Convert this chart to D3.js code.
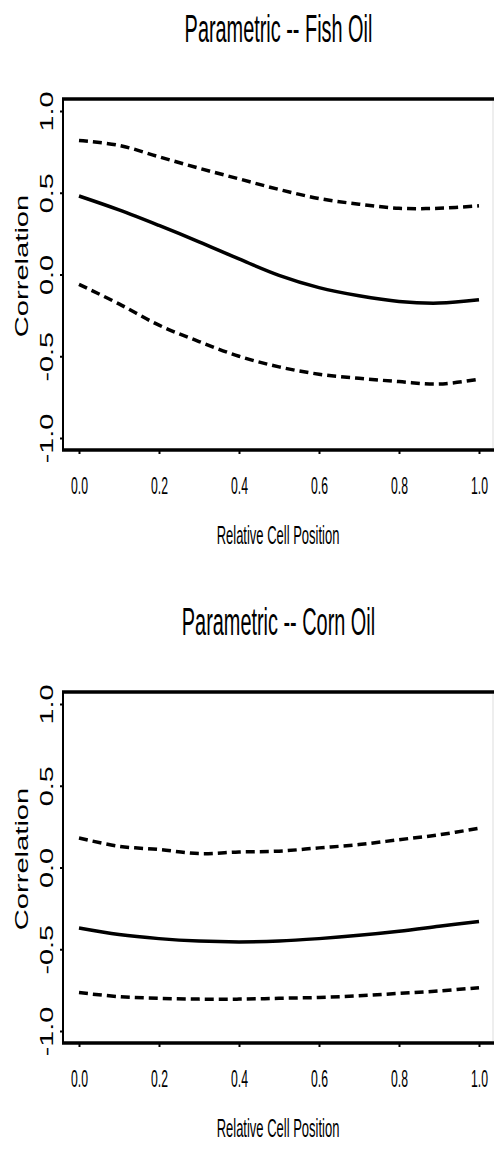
<!DOCTYPE html>
<html>
<head>
<meta charset="utf-8">
<script src="https://cdn.jsdelivr.net/npm/d3@7"></script>
<style>
html,body{margin:0;padding:0;background:#fff;}
svg{display:block;}
text{font-family:"Liberation Sans",Arial,Helvetica,sans-serif;fill:#000;}
</style>
</head>
<body>
<svg id="chart" width="494" height="1153"></svg>
<script>
// ---- data ----
const xPositions = [0, 0.1, 0.2, 0.3, 0.4, 0.5, 0.6, 0.7, 0.8, 0.9, 1.0];
const fishEstimate = [0.48, 0.395, 0.30, 0.20, 0.095, -0.005, -0.08, -0.13, -0.165, -0.175, -0.155];
const fishUpper    = [0.82, 0.79, 0.72, 0.65, 0.585, 0.52, 0.465, 0.43, 0.405, 0.405, 0.42];
const fishLower    = [-0.06, -0.18, -0.31, -0.41, -0.50, -0.565, -0.61, -0.635, -0.655, -0.67, -0.64];
const cornEstimate = [-0.37, -0.41, -0.435, -0.45, -0.455, -0.45, -0.435, -0.415, -0.39, -0.36, -0.33];
const cornUpper    = [0.18, 0.13, 0.11, 0.085, 0.095, 0.10, 0.12, 0.14, 0.17, 0.20, 0.24];
const cornLower    = [-0.765, -0.79, -0.80, -0.805, -0.805, -0.80, -0.795, -0.785, -0.77, -0.755, -0.735];
const xTicks = [0, 0.2, 0.4, 0.6, 0.8, 1.0];
const xTickLabels = ["0.0", "0.2", "0.4", "0.6", "0.8", "1.0"];
const yTicks = [-1, -0.5, 0, 0.5, 1];
const yTickLabels = ["-1.0", "-0.5", "0.0", "0.5", "1.0"];
const panelTitles = ["Parametric -- Fish Oil", "Parametric -- Corn Oil"];
const xAxisTitle = "Relative Cell Position";
const yAxisTitle = "Correlation";

const panels = [
  {title: panelTitles[0], est: fishEstimate, up: fishUpper, lo: fishLower},
  {title: panelTitles[1], est: cornEstimate, up: cornUpper, lo: cornLower}
];

const svg = d3.select("#chart");
const panelOffset = 593;
const boxL = 63, boxR = 493, boxT = 99, boxB = 450;
const x = d3.scaleLinear().domain([0, 1]).range([79, 479]);
const y = d3.scaleLinear().domain([-1, 1]).range([438, 111]);

const hScale = 0.52;   // horizontal text compression
const rScale = 1.6;    // rotated text stretch

panels.forEach((p, i) => {
  const g = svg.append("g").attr("transform", `translate(0,${i * panelOffset})`);

  // title
  g.append("text")
    .attr("transform", `translate(278.5,41.5) scale(0.51,1)`)
    .attr("text-anchor", "middle")
    .attr("font-size", 39)
    .text(p.title);

  // box
  g.append("line").attr("x1", boxL - 1).attr("x2", 494).attr("y1", boxT).attr("y2", boxT)
    .attr("stroke", "#000").attr("stroke-width", 3.5);
  g.append("line").attr("x1", boxL - 1).attr("x2", 494).attr("y1", boxB).attr("y2", boxB)
    .attr("stroke", "#000").attr("stroke-width", 3.5);
  g.append("line").attr("x1", boxL).attr("x2", boxL).attr("y1", boxT).attr("y2", boxB)
    .attr("stroke", "#000").attr("stroke-width", 2);
  g.append("line").attr("x1", boxR).attr("x2", boxR).attr("y1", boxT + 2).attr("y2", boxB - 2)
    .attr("stroke", "#ddd").attr("stroke-width", 1);

  // x axis ticks
  const xAxis = d3.axisBottom(x).tickValues(xTicks).tickSize(4).tickFormat("");
  const xg = g.append("g").attr("transform", `translate(0,${boxB})`).call(xAxis);
  xg.select(".domain").remove();
  xg.selectAll(".tick line").attr("stroke", "#000").attr("stroke-width", 2);
  xg.selectAll(".tick").each(function(d, k) {
    d3.select(this).append("text")
      .attr("transform", `translate(0,44) scale(${hScale},1)`)
      .attr("text-anchor", "middle")
      .attr("font-size", 23.5)
      .attr("fill", "#000")
      .text(xTickLabels[k]);
  });

  // y axis ticks
  const yAxis = d3.axisLeft(y).tickValues(yTicks).tickSize(2).tickFormat("");
  const yg = g.append("g").attr("transform", `translate(${boxL - 1},0)`).call(yAxis);
  yg.select(".domain").remove();
  yg.selectAll(".tick line").attr("stroke", "#000").attr("stroke-width", 2);
  yg.selectAll(".tick").each(function(d, k) {
    d3.select(this).append("text")
      .attr("transform", `translate(-9,0) rotate(-90) scale(${rScale},1)`)
      .attr("text-anchor", "middle")
      .attr("font-size", 18)
      .attr("fill", "#000")
      .text(yTickLabels[k]);
  });

  // axis titles
  g.append("text")
    .attr("transform", `translate(278,544) scale(${hScale},1)`)
    .attr("text-anchor", "middle")
    .attr("font-size", 25)
    .text(xAxisTitle);
  g.append("text")
    .attr("transform", `translate(28,266) rotate(-90) scale(1.62,1)`)
    .attr("text-anchor", "middle")
    .attr("font-size", 18)
    .text(yAxisTitle);

  // curves
  const line = d3.line()
    .x((d, k) => x(xPositions[k]))
    .y(d => y(d))
    .curve(d3.curveCatmullRom);

  g.append("path").datum(p.up).attr("d", line)
    .attr("fill", "none").attr("stroke", "#000").attr("stroke-width", 3.5)
    .attr("stroke-dasharray", "9,5");
  g.append("path").datum(p.lo).attr("d", line)
    .attr("fill", "none").attr("stroke", "#000").attr("stroke-width", 3.5)
    .attr("stroke-dasharray", "9,5");
  g.append("path").datum(p.est).attr("d", line)
    .attr("fill", "none").attr("stroke", "#000").attr("stroke-width", 3.5);
});
</script>
</body>
</html>
